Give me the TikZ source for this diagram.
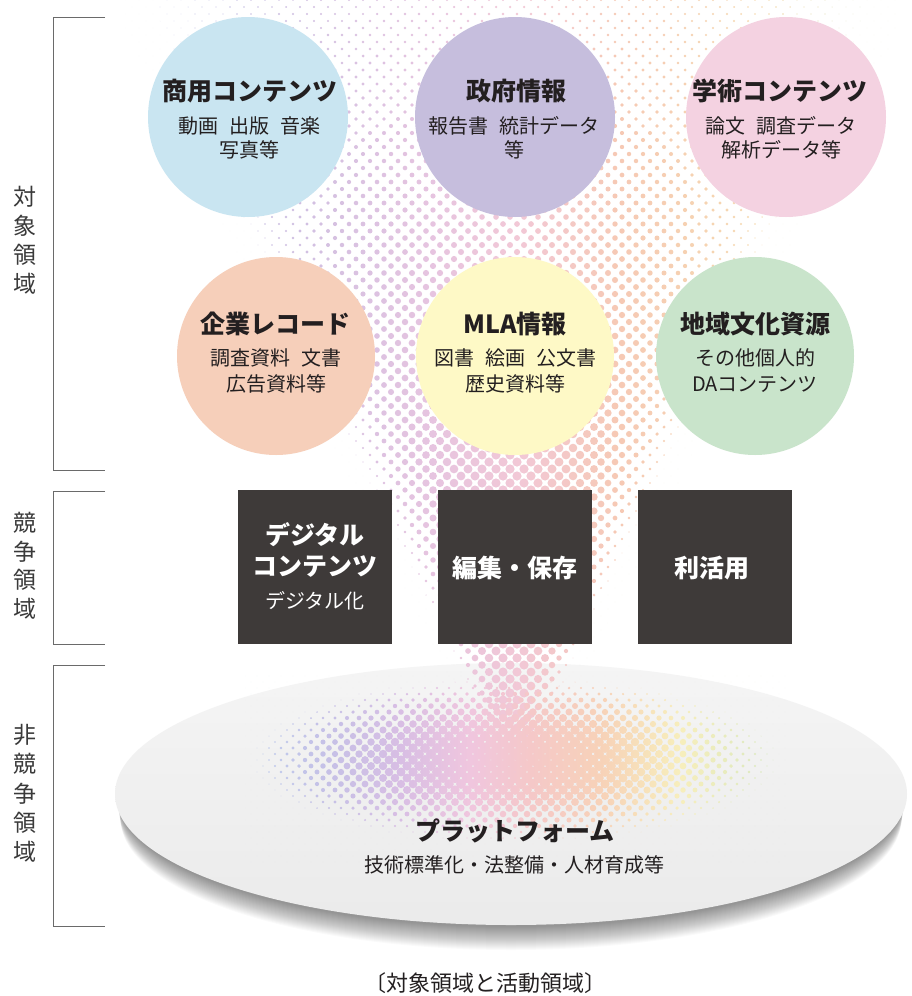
\documentclass[tikz,border=0pt]{standalone}
\usepackage{fontspec}
\setmainfont{Noto Sans CJK JP}
\definecolor{ink}{HTML}{231F20}
\definecolor{sidegray}{HTML}{3A3A3A}
\definecolor{brkgray}{HTML}{6A6A6A}
\definecolor{boxgray}{HTML}{3E3A39}
\definecolor{cblue}{HTML}{C9E5F1}
\definecolor{cpurple}{HTML}{C6BEDD}
\definecolor{cpink}{HTML}{F4D2E1}
\definecolor{cpeach}{HTML}{F6CFBA}
\definecolor{cyellow}{HTML}{FEF9C6}
\definecolor{cgreen}{HTML}{C9E4CB}
% funnel colours
\definecolor{fa}{HTML}{C2D0EC}
\definecolor{fb}{HTML}{CDBFE2}
\definecolor{fc}{HTML}{E6C4E0}
\definecolor{fd}{HTML}{F2C8D6}
\definecolor{fe}{HTML}{F6C9B4}
\definecolor{ff}{HTML}{F6DAB0}
\definecolor{fg}{HTML}{D0E4BE}
% blob colours
\definecolor{ba}{HTML}{BCCEEE}
\definecolor{bb}{HTML}{C6C0E6}
\definecolor{bc}{HTML}{D8BEE4}
\definecolor{bd}{HTML}{F0C6DE}
\definecolor{be}{HTML}{F5C8C8}
\definecolor{bf}{HTML}{F7D2B8}
\definecolor{bg}{HTML}{F7EEBC}
\definecolor{bh}{HTML}{D4E8C0}
\pgfdeclarehorizontalshading{funnelshade}{100bp}{color(0bp)=(fa); color(25bp)=(fa); color(35bp)=(fb); color(44.8bp)=(fc); color(50.6bp)=(fd); color(57.1bp)=(fe); color(66.2bp)=(ff); color(75bp)=(fg); color(100bp)=(fg)}
\pgfdeclarehorizontalshading{blobshade}{100bp}{color(0bp)=(ba); color(25bp)=(ba); color(32.9bp)=(bb); color(39.4bp)=(bc); color(45.9bp)=(bd); color(51.5bp)=(be); color(58bp)=(bf); color(65.3bp)=(bg); color(75bp)=(bh); color(100bp)=(bh)}
\newcommand{\gap}{\hspace{0.55em}}
\begin{document}
\begin{tikzpicture}[x=1pt,y=-1pt,
  ttl/.style={font=\bfseries\fontsize{25}{25}\selectfont, text=ink, anchor=base, inner sep=0pt},
  sub/.style={font=\fontsize{20}{20}\selectfont, text=ink, anchor=base, inner sep=0pt},
  wttl/.style={ttl, text=white},
  wsub/.style={sub, text=white},
  bubble/.style={circle, minimum size=200pt, inner sep=0pt, draw=none},
  darkbox/.style={rectangle, fill=boxgray, minimum width=154pt, minimum height=154pt, inner sep=0pt, draw=none},
  side/.style={font=\fontsize{23}{23}\selectfont, text=sidegray, inner sep=0pt},
  brk/.style={draw=brkgray, line width=0.9pt}
]
\useasboundingbox[fill=white] (0,0) rectangle (911,996);

% platform shadow and disc
\foreach \k in {1,...,24} {
  \pgfmathsetmacro\shrx{394-0.15*\k}
  \fill[black, opacity=0.02] (511,{795+\k}) ellipse [x radius=\shrx pt, y radius=131pt];
}
\shade[top color=black!4, bottom color=black!8] (511,794) ellipse [x radius=396pt, y radius=131pt];

% halftone funnel, in bands of rows
\foreach \band in {0,...,13} {
\begin{scope}
\clip foreach \jj [evaluate=\jj as \j using int(8*\band+\jj),
                   evaluate=\jj as \ia using {int(max(0,(3.5*(8*\band+\jj)-7)/14))},
                   evaluate=\jj as \ib using {int(min(55,(770-3.41026*(8*\band+\jj))/14+1))}] in {0,...,7} {
  foreach \i [evaluate=\i as \rr using {max(0.05, min(4.6, 1.2+7*\j/135)*(1 - (abs(125+14*\i+7*mod(\j,2)-510-0.04487*\j)/(385-3.45513*\j))^3))}] in {\ia,...,\ib} {
    ({125+14*\i+7*mod(\j,2)},{7*\j}) circle[radius=\rr pt]
  }
};
\shade[shading=funnelshade] (125,-5) rectangle (895,785);
\end{scope}
}

% halftone blob on platform
\foreach \band in {0,...,3} {
\begin{scope}
\clip foreach \jj [evaluate=\jj as \j using int(8*\band+\jj)] in {0,...,7} {
  foreach \i [evaluate=\i as \rr using {max(0.05, 5.6*(1 - ((245+12*\i+6*mod(\j,2)-515)/270)*((245+12*\i+6*mod(\j,2)-515)/270) - ((676+6*\j-760)/84)*((676+6*\j-760)/84)))}] in {0,...,45} {
    ({245+12*\i+6*mod(\j,2)},{676+6*\j}) circle[radius=\rr pt]
  }
};
\shade[shading=blobshade] (245,670) rectangle (785,870);
\end{scope}
}

% bubbles
\node[bubble, fill=cblue]   (c1) at (248,117) {};
\node[bubble, fill=cpurple] (c2) at (515,117) {};
\node[bubble, fill=cpink]   (c3) at (786,117) {};
\node[bubble, fill=cpeach, minimum size=198pt]  (c4) at (276,356) {};
\node[bubble, fill=cyellow, minimum size=198pt] (c5) at (515,356) {};
\node[bubble, fill=cgreen, minimum size=198pt]  (c6) at (755,356) {};

\node[ttl] (t1) at (250,100) {商用コンテンツ};
\node[sub] (s1a) at (249,133) {動画\gap 出版\gap 音楽};
\node[sub] (s1b) at (249,157) {写真等};
\node[ttl] (t2) at (516,100) {政府情報};
\node[sub] (s2a) at (514,133) {報告書\gap 統計データ};
\node[sub] (s2b) at (514,157) {等};
\node[ttl] (t3) at (780,100) {学術コンテンツ};
\node[sub] (s3a) at (781,133) {論文\gap 調査データ};
\node[sub] (s3b) at (781,157) {解析データ等};

\node[ttl] (t4) at (275,333) {企業レコード};
\node[sub] (s4a) at (276,365) {調査資料\gap 文書};
\node[sub] (s4b) at (276,391) {広告資料等};
\node[ttl] (t5) at (515,333) {MLA情報};
\node[sub] (s5a) at (515,365) {図書\gap 絵画\gap 公文書};
\node[sub] (s5b) at (515,391) {歴史資料等};
\node[ttl] (t6) at (755,333) {地域文化資源};
\node[sub] (s6a) at (755,365) {その他個人的};
\node[sub] (s6b) at (755,391) {DAコンテンツ};

% dark boxes
\node[darkbox] (b1) at (315,567) {};
\node[darkbox] (b2) at (514.5,567) {};
\node[darkbox] (b3) at (714.5,567) {};
\node[wttl] (bt1a) at (315,544) {デジタル};
\node[wttl] (bt1b) at (315,575) {コンテンツ};
\node[wsub] (bt1c) at (315,608) {デジタル化};
\node[wttl] (bt2) at (515,577) {編集・保存};
\node[wttl] (bt3) at (712,577) {利活用};

% platform text
\node[ttl] (pt) at (515,840) {プラットフォーム};
\node[sub] (ps) at (514,872) {技術標準化・法整備・人材育成等};

% brackets
\coordinate (k1a) at (105,17);  \coordinate (k1b) at (53,17);
\coordinate (k1c) at (53,470);  \coordinate (k1d) at (105,470);
\coordinate (k2a) at (105,491); \coordinate (k2b) at (53,491);
\coordinate (k2c) at (53,644);  \coordinate (k2d) at (105,644);
\coordinate (k3a) at (105,665); \coordinate (k3b) at (53,665);
\coordinate (k3c) at (53,926);  \coordinate (k3d) at (105,926);
\draw[brk] (k1a) -- (k1b) -- (k1c) -- (k1d);
\draw[brk] (k2a) -- (k2b) -- (k2c) -- (k2d);
\draw[brk] (k3a) -- (k3b) -- (k3c) -- (k3d);

\foreach \c [count=\n] in {対,象,領,域} \node[side] (la\n) at (25,{197+29*(\n-1)}) {\c};
\foreach \c [count=\n] in {競,争,領,域} \node[side] (lb\n) at (25,{523+28.5*(\n-1)}) {\c};
\foreach \c [count=\n] in {非,競,争,領,域} \node[side] (lc\n) at (25,{735+29.2*(\n-1)}) {\c};

% caption
\node[font=\fontsize{22}{22}\selectfont, text=ink, anchor=base, inner sep=0pt] (cap) at (485,991) {〔対象領域と活動領域〕};
\end{tikzpicture}
\end{document}
